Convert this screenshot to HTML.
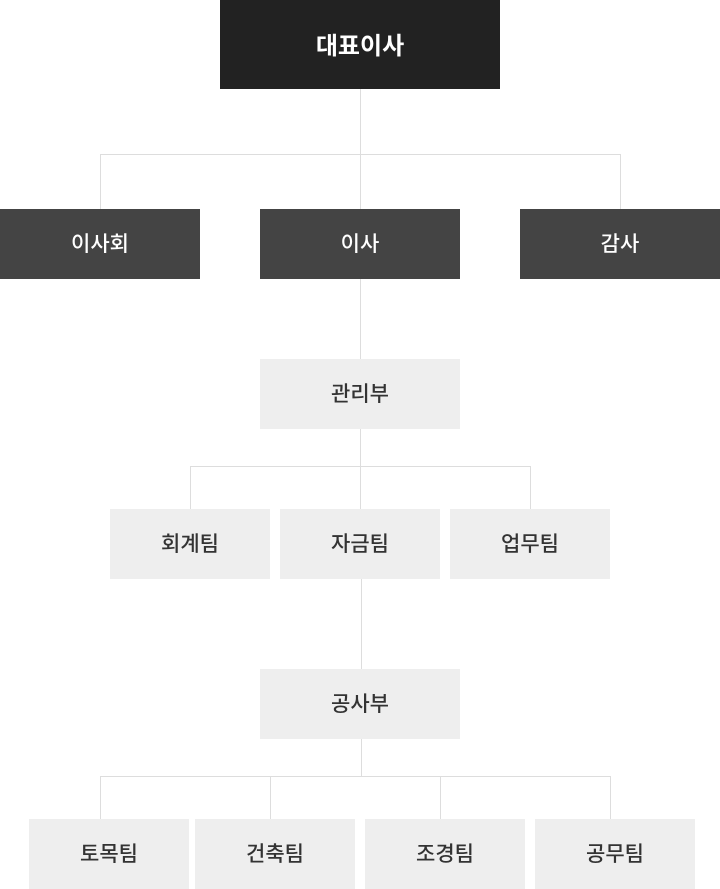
<!DOCTYPE html>
<html><head><meta charset="utf-8"><style>
body{margin:0;width:720px;height:889px;position:relative;background:#fff;overflow:hidden;font-family:"Liberation Sans","Noto Sans CJK KR",sans-serif}
.b{position:absolute;display:flex;align-items:center;justify-content:center;font-size:21px;font-weight:500;box-sizing:border-box;padding-bottom:3px}
.d1{background:#222;color:#fff;font-weight:bold;font-size:24px}
.d2{background:#444;color:#fff}
.l{background:#eee;color:#333}
.v,.h{position:absolute;background:#ddd}
.v{width:1px}.h{height:1px}
</style></head><body>
<div class="v" style="left:360px;top:88px;height:121px"></div>
<div class="h" style="left:100px;top:154px;width:521px"></div>
<div class="v" style="left:100px;top:154px;height:55px"></div>
<div class="v" style="left:620px;top:154px;height:55px"></div>
<div class="v" style="left:360px;top:278px;height:81px"></div>
<div class="v" style="left:360px;top:429px;height:80px"></div>
<div class="h" style="left:190px;top:466px;width:341px"></div>
<div class="v" style="left:190px;top:466px;height:43px"></div>
<div class="v" style="left:530px;top:466px;height:43px"></div>
<div class="v" style="left:361px;top:579px;height:90px"></div>
<div class="v" style="left:361px;top:739px;height:37px"></div>
<div class="h" style="left:100px;top:776px;width:511px"></div>
<div class="v" style="left:100px;top:776px;height:43px"></div>
<div class="v" style="left:270px;top:776px;height:43px"></div>
<div class="v" style="left:440px;top:776px;height:43px"></div>
<div class="v" style="left:610px;top:776px;height:43px"></div>

<div class="b d1" style="left:220px;top:0;width:280px;height:89px">대표이사</div>
<div class="b d2" style="left:0;top:209px;width:200px;height:70px">이사회</div>
<div class="b d2" style="left:260px;top:209px;width:200px;height:70px">이사</div>
<div class="b d2" style="left:520px;top:209px;width:200px;height:70px">감사</div>
<div class="b l" style="left:260px;top:359px;width:200px;height:70px">관리부</div>
<div class="b l" style="left:110px;top:509px;width:160px;height:70px">회계팀</div>
<div class="b l" style="left:280px;top:509px;width:160px;height:70px">자금팀</div>
<div class="b l" style="left:450px;top:509px;width:160px;height:70px">업무팀</div>
<div class="b l" style="left:260px;top:669px;width:200px;height:70px">공사부</div>
<div class="b l" style="left:29px;top:819px;width:160px;height:70px">토목팀</div>
<div class="b l" style="left:195px;top:819px;width:160px;height:70px">건축팀</div>
<div class="b l" style="left:365px;top:819px;width:160px;height:70px">조경팀</div>
<div class="b l" style="left:535px;top:819px;width:160px;height:70px">공무팀</div>
</body></html>
